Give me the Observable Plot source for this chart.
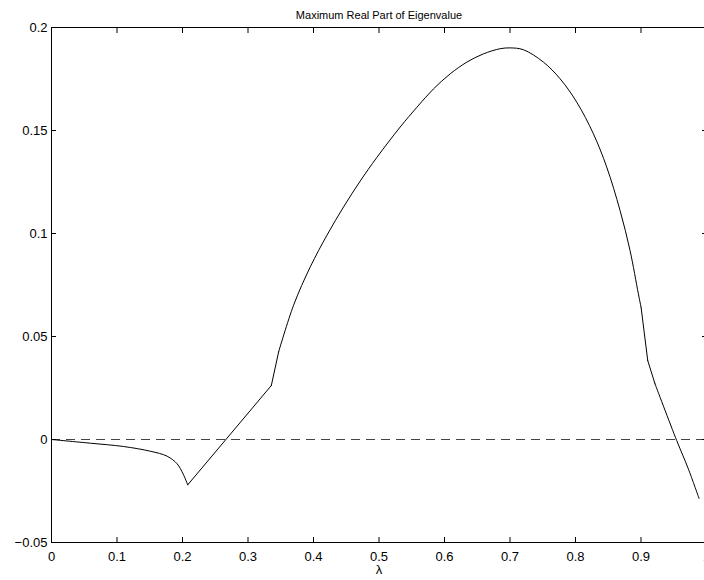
<!DOCTYPE html>
<html>
<head>
<meta charset="utf-8">
<script src="https://cdn.jsdelivr.net/npm/d3@7"></script>
<script src="https://cdn.jsdelivr.net/npm/@observablehq/plot@0.6"></script>
<style>
  html, body { margin: 0; padding: 0; background: white; overflow: hidden; }
  svg { max-width: none !important; }
</style>
</head>
<body>
<div id="chart"></div>
<script>
const titleText = "Maximum Real Part of Eigenvalue";
const xLabel = "λ";

// λ values, maximum real part of eigenvalue, and the smooth piece each point belongs to
const lambda = [
  0, 0.0595, 0.110, 0.151, 0.1765, 0.1918, 0.2009, 0.208,
  0.208, 0.3356,
  0.3356, 0.3468,
  0.3468, 0.3696, 0.3951, 0.4206, 0.4459, 0.4714, 0.4969, 0.5324,
  0.5579, 0.5832, 0.6087, 0.6342, 0.6595, 0.6850, 0.7002, 0.7205,
  0.751, 0.7765, 0.802, 0.8273, 0.8477, 0.868, 0.8833, 0.896, 0.9001,
  0.9001, 0.9103,
  0.9103, 0.9214,
  0.9214, 0.9545, 0.9722, 0.9886
];
const maxReal = [
  0, -0.0018, -0.0034, -0.0057, -0.0081, -0.0118, -0.0167, -0.0220,
  -0.0220, 0.0262,
  0.0262, 0.0426,
  0.0426, 0.0652, 0.0838, 0.0992, 0.1129, 0.1255, 0.1370, 0.1517,
  0.1613, 0.1702, 0.1775, 0.1832, 0.1872, 0.1897, 0.1901, 0.1892,
  0.1832, 0.1751, 0.1637, 0.1484, 0.1322, 0.1112, 0.0917, 0.0707, 0.0642,
  0.0642, 0.0383,
  0.0383, 0.0270,
  0.0270, -0.0005, -0.0142, -0.0286
];
const piece = [
  1, 1, 1, 1, 1, 1, 1, 1,
  2, 2,
  3, 3,
  4, 4, 4, 4, 4, 4, 4, 4,
  4, 4, 4, 4, 4, 4, 4, 4,
  4, 4, 4, 4, 4, 4, 4, 4, 4,
  5, 5,
  6, 6,
  7, 7, 7, 7
];
const xTicks = [0, 0.1, 0.2, 0.3, 0.4, 0.5, 0.6, 0.7, 0.8, 0.9, 1];
const yTicks = [-0.05, 0, 0.05, 0.1, 0.15, 0.2];
const refLine = [0];

const data = lambda.map((x, i) => ({x, y: maxReal[i], p: piece[i]}));
const fmt = d => String(+d.toFixed(2)).replace("-", "\u2212");
const blank = () => "";

const chart = Plot.plot({
  width: 712,
  height: 580,
  marginLeft: 51,
  marginRight: 6,
  marginTop: 27,
  marginBottom: 38,
  style: {fontFamily: "'Liberation Sans', Arial, Helvetica, sans-serif", fontSize: "13px", color: "black", background: "white", maxWidth: "none"},
  x: {domain: [0, 1]},
  y: {domain: [-0.05, 0.2]},
  marks: [
    Plot.ruleY(refLine, {stroke: "#444", strokeDasharray: "9,6", strokeWidth: 1}),
    Plot.line(data, {x: "x", y: "y", z: "p", stroke: "black", strokeWidth: 1, curve: "catmull-rom"}),
    Plot.frame({stroke: "black", strokeWidth: 1}),
    Plot.axisX(xTicks, {anchor: "bottom", tickSize: -5, tickPadding: 14, tickFormat: fmt, label: null}),
    Plot.axisX(xTicks, {anchor: "top", tickSize: -5, tickFormat: blank, label: null}),
    Plot.axisY(yTicks, {anchor: "left", tickSize: -5, tickPadding: 9, tickFormat: fmt, label: null}),
    Plot.axisY(yTicks, {anchor: "right", tickSize: -5, tickFormat: blank, label: null}),
    Plot.text([titleText], {frameAnchor: "top", dy: -16, fontSize: 11}),
    Plot.text([xLabel], {frameAnchor: "bottom", dy: 31, fontSize: 13})
  ]
});
document.getElementById("chart").appendChild(chart);
</script>
</body>
</html>
